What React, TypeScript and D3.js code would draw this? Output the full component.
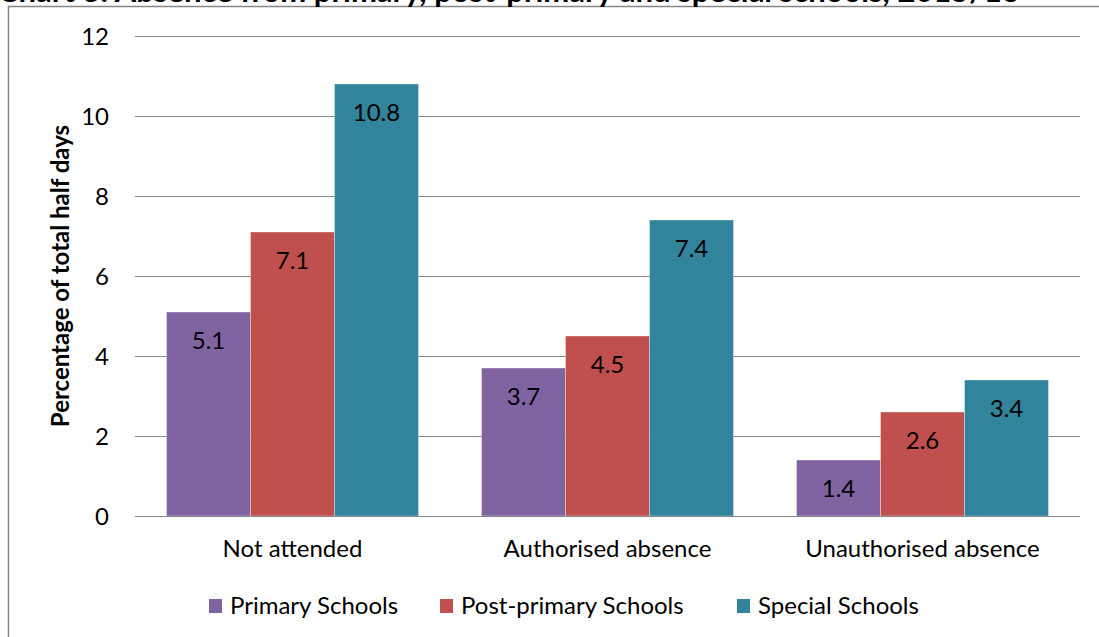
import React from 'react';
import * as d3 from 'd3';

const categories = ['Not attended', 'Authorised absence', 'Unauthorised absence'];
const seriesNames = ['Primary Schools', 'Post-primary Schools', 'Special Schools'];
const primarySchools = [5.1, 3.7, 1.4];
const postPrimarySchools = [7.1, 4.5, 2.6];
const specialSchools = [10.8, 7.4, 3.4];
const yTicks = [0, 2, 4, 6, 8, 10, 12];
const yAxisTitle = 'Percentage of total half days';
const chartTitle = 'Chart 3: Absence from primary, post-primary and special schools, 2015/16';

const seriesValues = [primarySchools, postPrimarySchools, specialSchools];
const colors = ['#8064A2', '#C0504D', '#31849B'];

const W = 1099;
const H = 637;
const FONT = 'Lato, Carlito, Calibri, sans-serif';
const FS = 24;

export default function App() {
  const x = d3.scaleBand<string>().domain(categories).range([135, 1080]).padding(0);
  const bw = x.bandwidth();
  const xi = d3
    .scaleBand<string>()
    .domain(seriesNames)
    .range([bw * 0.1, bw * 0.9])
    .padding(0);
  const y = d3.scaleLinear().domain([0, 12]).range([516, 36]);

  const legendX = [209, 440, 737];

  return (
    <div style={{ position: 'absolute', left: 0, top: 0 }}>
      <svg width={W} height={H} style={{ display: 'block', background: '#fff' }}>
        <rect x={8.5} y={6.5} width={W + 10} height={H + 10} fill="#fff" stroke="#868686" strokeWidth={1.5} />
        <text x={-2} y={2} fontFamily={FONT} fontWeight="bold" fontSize={31} fill="#000">
          {chartTitle}
        </text>
        {yTicks.map((t) => (
          <g key={t}>
            <line x1={135} x2={1080} y1={Math.round(y(t)) + 0.5} y2={Math.round(y(t)) + 0.5} stroke="#868686" strokeWidth={1.2} />
            <text x={109} y={y(t) + 8.5} textAnchor="end" fontFamily={FONT} fontSize={FS} fill="#000">
              {t}
            </text>
          </g>
        ))}
        {categories.map((c, ci) => (
          <g key={c}>
            {seriesNames.map((s, si) => {
              const v = seriesValues[si][ci];
              const bx = (x(c) as number) + (xi(s) as number);
              const by = y(v);
              return (
                <g key={s}>
                  <rect
                    x={bx}
                    y={by}
                    width={xi.bandwidth()}
                    height={y(0) - by}
                    fill={colors[si]}
                    stroke="rgba(255,255,255,0.45)"
                    strokeWidth={0.8}
                  />
                  <text
                    x={bx + xi.bandwidth() / 2}
                    y={by + 37}
                    textAnchor="middle"
                    fontFamily={FONT}
                    fontSize={FS}
                    fill="#000"
                  >
                    {v.toFixed(1)}
                  </text>
                </g>
              );
            })}
            <text
              x={(x(c) as number) + bw / 2}
              y={557}
              textAnchor="middle"
              fontFamily={FONT}
              fontSize={FS}
              fill="#000"
            >
              {c}
            </text>
          </g>
        ))}
        <line x1={135} x2={1080} y1={516.5} y2={516.5} stroke="#868686" strokeWidth={1.2} />
        <text
          transform="translate(69,276) rotate(-90)"
          textAnchor="middle"
          fontFamily={FONT}
          fontWeight="bold"
          fontSize={FS}
          fill="#000"
        >
          {yAxisTitle}
        </text>
        {seriesNames.map((s, si) => (
          <g key={s}>
            <rect x={legendX[si]} y={599} width={13} height={14} fill={colors[si]} />
            <text x={legendX[si] + 21} y={614} fontFamily={FONT} fontSize={FS} fill="#000">
              {s}
            </text>
          </g>
        ))}
      </svg>
    </div>
  );
}
